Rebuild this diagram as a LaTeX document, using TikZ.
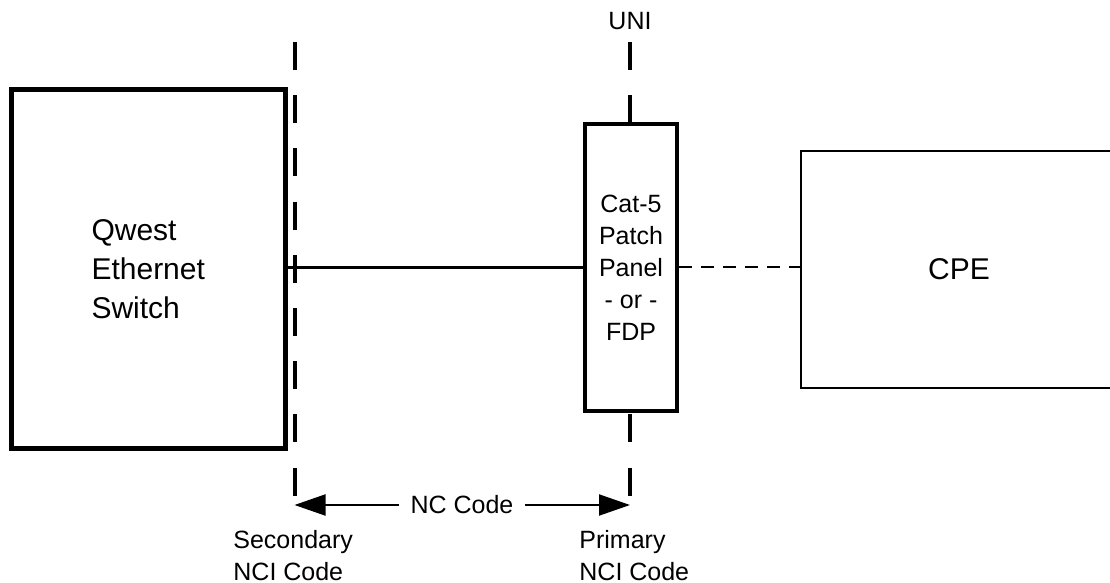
\documentclass[tikz,border=0pt]{standalone}
\usepackage{fontspec}
\setmainfont{Liberation Sans}
\usetikzlibrary{arrows.meta}

\begin{document}
\begin{tikzpicture}[x=0.5pt,y=-0.5pt,
    bigtext/.style={font=\fontsize{15}{19.5}\selectfont},
    smalltext/.style={font=\fontsize{12.5}{16}\selectfont},
    boundary/.style={line width=2pt, dash pattern=on 14pt off 12.6pt},
    link/.style={line width=1.75pt},
    dashlink/.style={line width=1pt, dash pattern=on 6.5pt off 4.5pt},
    dim/.style={line width=1pt, -{Triangle[length=15.5pt,width=10.5pt]}}]
    \useasboundingbox (0,0) rectangle (1110,583);

    % NCI boundaries
    \coordinate (secTop) at (294.5,42);
    \coordinate (secBot) at (294.5,496);
    \coordinate (priTop) at (630,42);
    \coordinate (priBot) at (630,496);
    \draw[boundary] (secTop) -- (secBot);
    \draw[boundary] (priTop) -- (priBot);
    \node[smalltext] (uni) at (630,21) {UNI};

    % equipment
    \node[draw, line width=2.5pt, fill=white, minimum width=136.75pt, minimum height=179.5pt,
        bigtext, align=left] (switch) at (148.25,269) {Qwest\\Ethernet\\Switch};
    \node[draw, line width=1.75pt, fill=white, minimum width=46pt, minimum height=143.5pt,
        smalltext, align=center] (panel) at (631,267.5) {Cat-5\\Patch\\Panel\\- or -\\FDP};
    \node[draw, line width=0.8pt, fill=white, minimum width=158pt, minimum height=118.5pt,
        bigtext] (cpe) at (959,269.5) {CPE};

    \draw[link] (switch.east |- panel.west) -- (panel.west);
    \draw[dashlink] (panel.east) -- (panel.east -| cpe.west);

    % NC code span
    \coordinate (ncL) at (294.5,505);
    \coordinate (ncR) at (630,505);
    \node[smalltext, inner xsep=5.5pt] (nc) at (462,505) {NC Code};
    \draw[dim] (nc.west) -- (ncL);
    \draw[dim] (nc.east) -- (ncR);

    \node[smalltext, align=left, anchor=north west, inner sep=0pt] (secnci) at (233,530) {Secondary\\NCI Code};
    \node[smalltext, align=left, anchor=north west, inner sep=0pt] (princi) at (579,530) {Primary\\NCI Code};
\end{tikzpicture}
\end{document}
